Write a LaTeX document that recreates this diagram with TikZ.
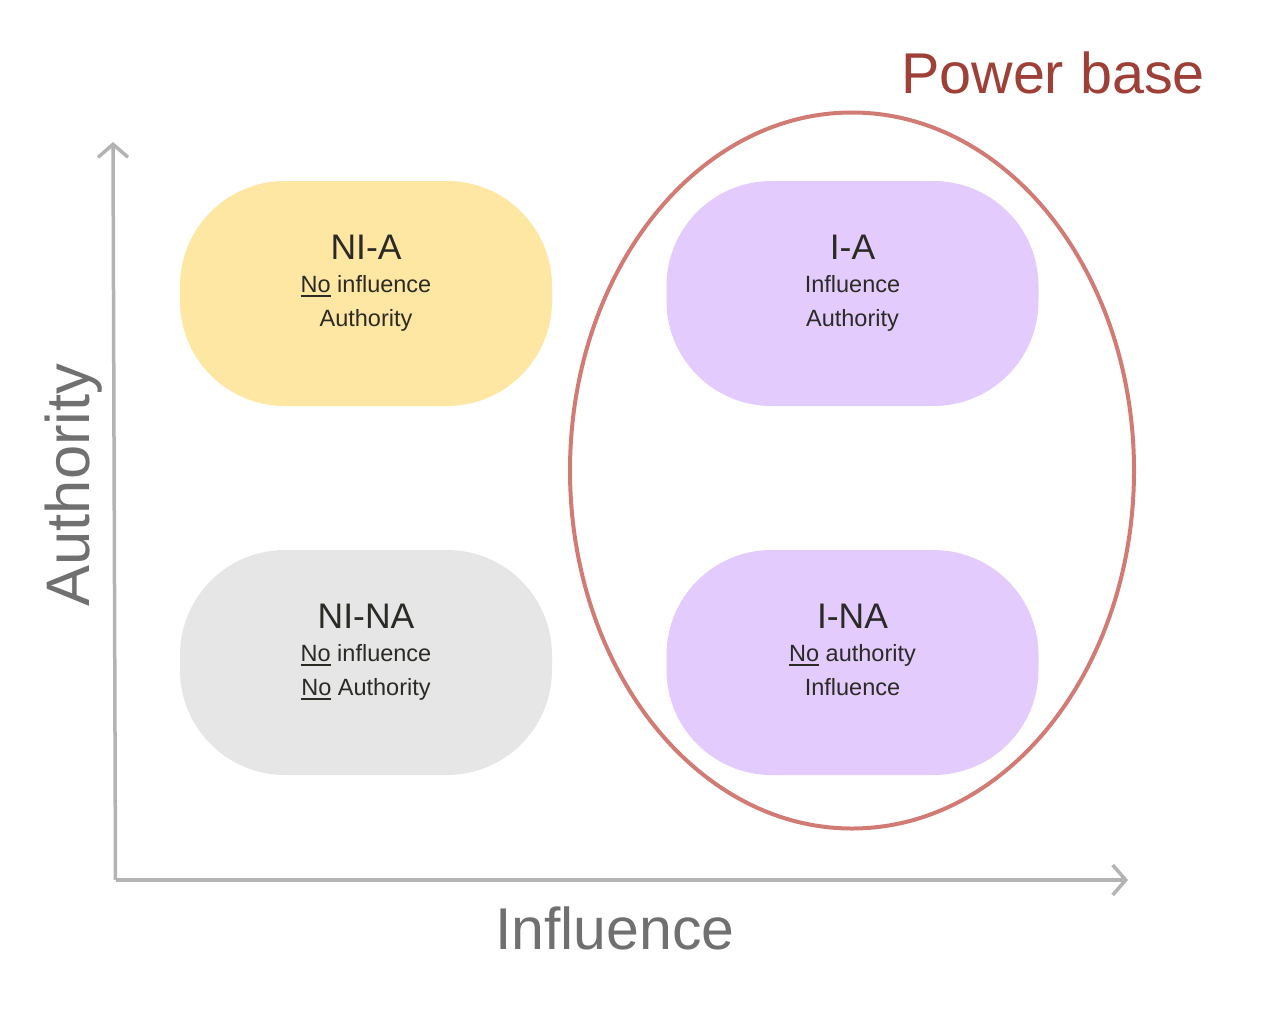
\documentclass[tikz,border=0pt]{standalone}
\usepackage{fontspec}
\setmainfont{Liberation Sans}
\usetikzlibrary{arrows.meta}
\definecolor{boxyellow}{HTML}{FEE7A3}
\definecolor{boxgrey}{HTML}{E6E6E6}
\definecolor{boxpurple}{HTML}{E3CCFD}
\definecolor{ringred}{HTML}{D27B74}
\definecolor{titlered}{HTML}{9E3F38}
\definecolor{axisgrey}{HTML}{B3B3B3}
\definecolor{labelgrey}{HTML}{707070}
\definecolor{txt}{HTML}{2B2A25}
\newcommand\myul[1]{\setbox0\hbox{#1}\rlap{\rule[-4.5pt]{\wd0}{1.7pt}}\box0\relax}
\begin{document}
\begin{tikzpicture}[x=1pt,y=-1pt,
  quad/.style={draw=none,rounded corners=105pt,minimum width=372pt,minimum height=225pt,inner sep=0pt},
  qtitle/.style={text=txt,font=\fontsize{35.5}{35.5}\selectfont,inner sep=0pt,anchor=base},
  qline/.style={text=txt,font=\fontsize{23.5}{23.5}\selectfont,inner sep=0pt,anchor=base},
  axis/.style={draw=axisgrey,line width=3.5pt,-{Straight Barb[length=13pt,width=30pt,line width=3.5pt]}},
  axlabel/.style={text=labelgrey,inner sep=0pt}]
\useasboundingbox (0,0) rectangle (1284,1012);
% boxes
\node[quad,fill=boxyellow] (nia) at (366,293.5) {};
\node[quad,fill=boxpurple] (ia) at (852.5,293.5) {};
\node[quad,fill=boxgrey] (nina) at (366,662.5) {};
\node[quad,fill=boxpurple] (ina) at (852.5,662.5) {};
% texts
\node[qtitle] (niat) at (366,259) {NI-A};
\node[qline] (nia1) at (366,292) {\myul{No} influence};
\node[qline] (nia2) at (366,326) {Authority};
\node[qtitle] (iat) at (852.5,259) {I-A};
\node[qline] (ia1) at (852.5,292) {Influence};
\node[qline] (ia2) at (852.5,326) {Authority};
\node[qtitle] (ninat) at (366,628) {NI-NA};
\node[qline] (nina1) at (366,661) {\myul{No} influence};
\node[qline] (nina2) at (366,695) {\myul{No} Authority};
\node[qtitle] (inat) at (852.5,628) {I-NA};
\node[qline] (ina1) at (852.5,661) {\myul{No} authority};
\node[qline] (ina2) at (852.5,695) {Influence};
% ellipse
\draw[ringred,line width=4pt] (852,470.5) ellipse [x radius=282, y radius=358];
\node[text=titlered,font=\fontsize{57.5}{57.5}\selectfont,inner sep=0pt] (pb) at (1053,73) {Power base};
% axes
\coordinate (o) at (115.5,880);
\coordinate (ytop) at (113,142);
\coordinate (xend) at (1128,880);
\draw[axis] (o) -- (ytop);
\draw[axis] (o) -- (xend);
\node[axlabel,font=\fontsize{61.5}{61.5}\selectfont,rotate=90] (alab) at (74,485) {Authority};
\node[axlabel,font=\fontsize{59}{59}\selectfont] (ilab) at (615,928) {Influence};
\end{tikzpicture}
\end{document}
